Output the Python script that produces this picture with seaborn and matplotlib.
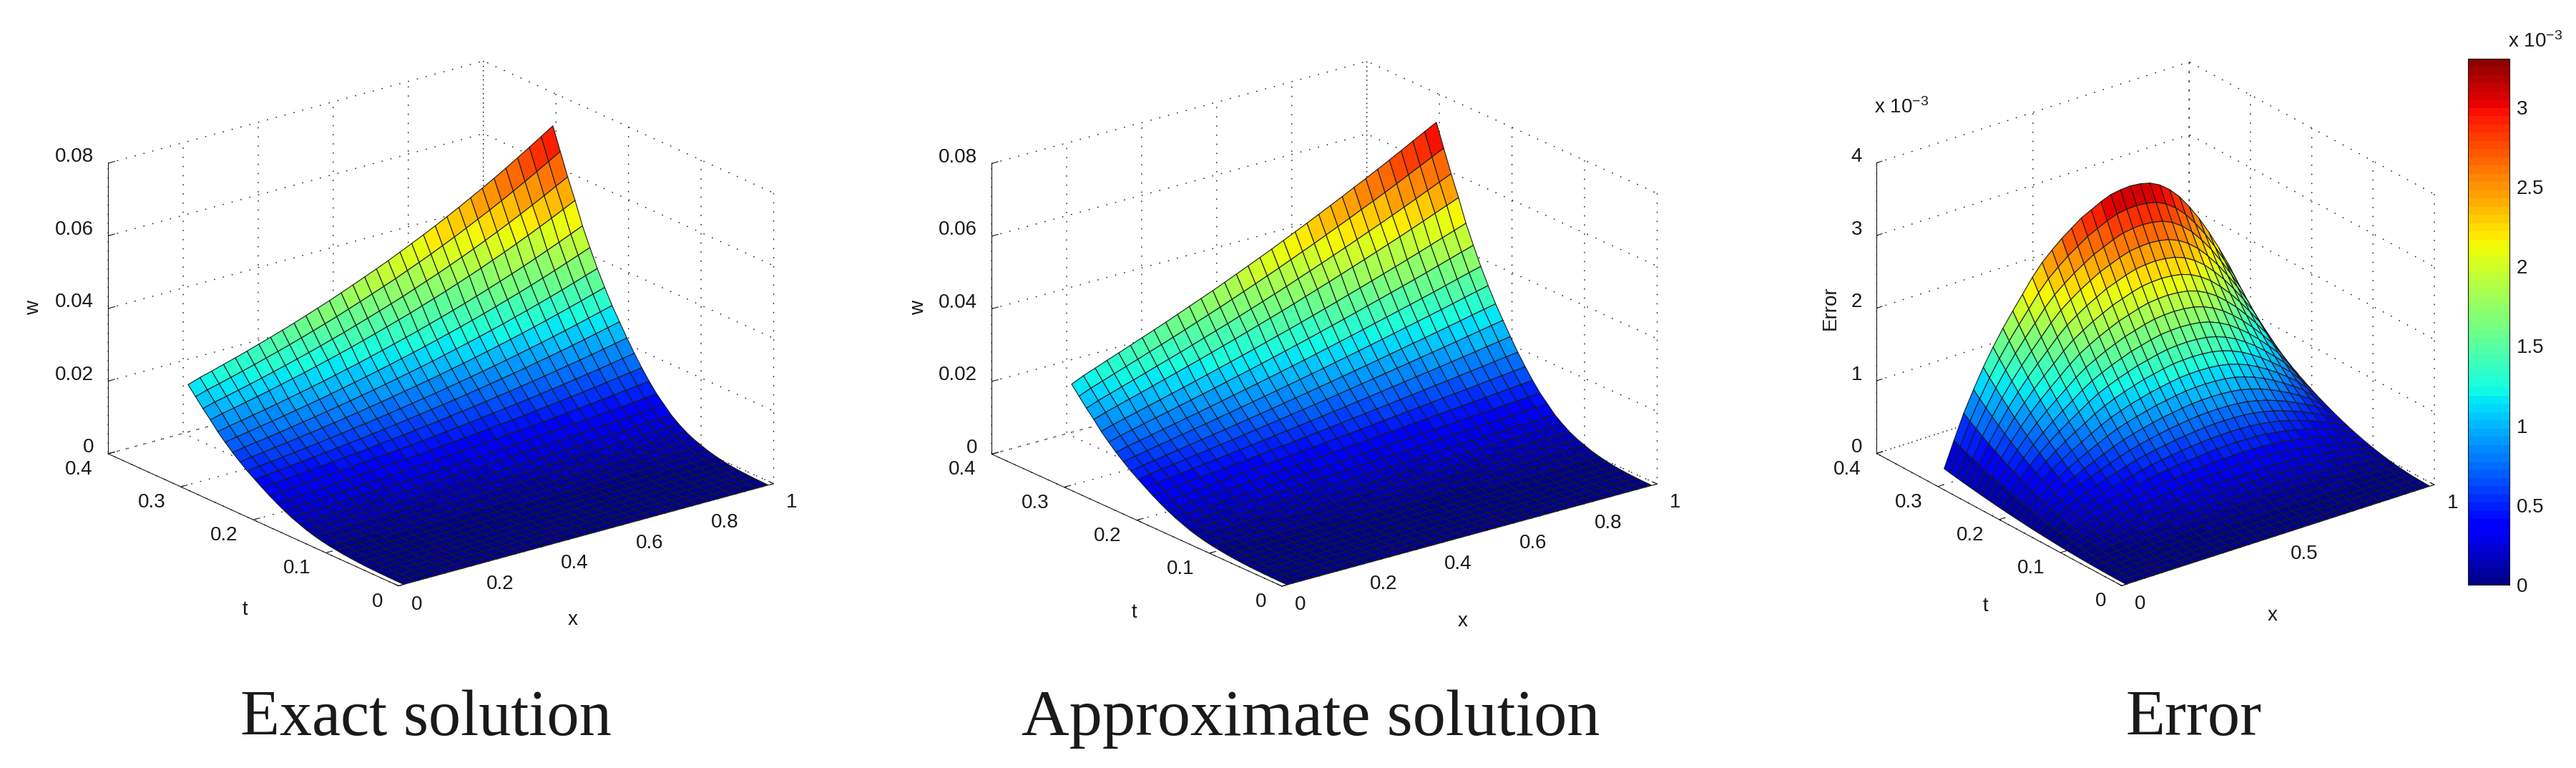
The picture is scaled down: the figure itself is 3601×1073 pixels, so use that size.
import numpy as np
import matplotlib
matplotlib.use("Agg")
import matplotlib.pyplot as plt
from matplotlib.colors import ListedColormap, Normalize
from matplotlib.cm import ScalarMappable
from mpl_toolkits.mplot3d import proj3d
import seaborn as sns

# ---- data ----
x_grid = np.linspace(0.014, 0.986, 32)
t_grid = np.linspace(0.001, 0.297, 30)
# exact solution along x = 0, for each t
exact_t = [0, .00001, .00004, .00008, .00014, .00022, .00035, .00051, .00071, .00099,
           .00128, .00167, .00217, .00276, .00355, .00433, .00532, .0064, .00758, .00887,
           .01024, .01162, .0132, .01487, .01675, .01872, .02108, .02325, .02561, .02800]
# growth of the exact solution along x
exact_x = [1, 1.039, 1.070, 1.104, 1.137, 1.172, 1.209, 1.245, 1.283, 1.322, 1.363, 1.405,
           1.447, 1.493, 1.539, 1.586, 1.634, 1.683, 1.736, 1.789, 1.843, 1.900, 1.958,
           2.018, 2.081, 2.144, 2.210, 2.278, 2.348, 2.420, 2.494, 2.568]
# error along the edge t = 0.29 (x 1e-3), for each x
error_x = [.239, .585, .917, 1.199, 1.463, 1.697, 1.911, 2.106, 2.291, 2.481, 2.642, 2.769,
           2.886, 2.984, 3.081, 3.149, 3.218, 3.272, 3.295, 3.305, 3.290, 3.257, 3.188,
           3.081, 2.940, 2.759, 2.555, 2.321, 2.067, 1.794, 1.443, 1.073]
# relative error against t
error_t = [0, .0012, .0048, .0107, .0190, .0297, .0428, .0583, .0761, .0963, .1189, .1439,
           .1712, .2010, .2331, .2675, .3044, .3436, .3853, .4293, .4756, .5244, .5755,
           .6290, .6849, .7432, .8038, .8668, .9322, 1.0]

x_ticks_fine = [0, .2, .4, .6, .8, 1]
x_labels_fine = ['0', '0.2', '0.4', '0.6', '0.8', '1']
x_ticks_coarse = [0, .5, 1]
x_labels_coarse = ['0', '0.5', '1']
t_ticks = [0, .1, .2, .3, .4]
t_labels = ['0', '0.1', '0.2', '0.3', '0.4']
w_ticks = [0, .02, .04, .06, .08]
w_labels = ['0', '0.02', '0.04', '0.06', '0.08']
err_ticks = [0, .001, .002, .003, .004]
err_labels = ['0', '1', '2', '3', '4']
cb_ticks = [0, .0005, .001, .0015, .002, .0025, .003]
cb_labels = ['0', '0.5', '1', '1.5', '2', '2.5', '3']
titles = ['Exact solution', 'Approximate solution', 'Error']
title_sizes = [65, 66.5, 65]

exact = np.outer(exact_t, exact_x)
error = np.outer(error_t, error_x) * 1e-3
approx = exact + error

# ---- style ----
FS = 20
sns.set_theme(style='white')
plt.rcParams.update({
    'font.family': ['Liberation Sans', 'DejaVu Sans'],
    'text.color': 'k', 'axes.labelcolor': 'k', 'xtick.color': 'k', 'ytick.color': 'k',
    'axes.edgecolor': 'k', 'axes.linewidth': 0.8,
    'xtick.major.width': 0.8, 'ytick.major.width': 0.8,
    'xtick.labelsize': FS, 'ytick.labelsize': FS,
    'grid.color': 'k', 'grid.linewidth': 1.0, 'grid.linestyle': (0, (1.2, 8)),
    'mathtext.default': 'regular',
})
jet64 = ListedColormap(sns.mpl_palette('jet', 64))

W, H = 3601, 1073
fig = plt.figure(figsize=(W / 100, H / 100), dpi=100, facecolor='white')


def px(ax, p):
    xp, yp, _ = proj3d.proj_transform(p[0], p[1], p[2], ax.get_proj())
    return ax.transData.transform((xp, yp))


def pin_labels(ax, axis, points, ha, offset):
    """Keep each tick label of a 3D axis at a fixed distance from its tick."""
    noop = lambda *a, **k: None
    for tick, p in zip(axis.get_major_ticks(), points):
        label = tick.label1
        label.set_horizontalalignment(ha)
        label.set_verticalalignment('center')
        label.set_fontsize(FS)
        anchor = ax.transData.inverted().transform(px(ax, p) + np.array(offset))
        label.set_position(anchor)
        for name in ('set_horizontalalignment', 'set_ha', 'set_verticalalignment', 'set_va',
                     'set_position', 'set_x', 'set_y'):
            setattr(label, name, noop)


def panel(Z, zmax, front, zlen, elev, aspect, xt, xl, zt, zl, zlabel, zlabel_xy, t_xy, x_xy, vmax):
    S0 = 1000.0
    ax = fig.add_axes([0, 0, S0 / W, S0 / H], projection='3d', proj_type='ortho')
    ax.set_facecolor('none')
    ax.set_xlim(0, 1, view_margin=0)
    ax.set_ylim(0, .4, view_margin=0)
    ax.set_zlim(0, zmax, view_margin=0)
    ax.view_init(elev=elev, azim=-127.73)
    ax.set_box_aspect(aspect)
    ax.apply_aspect()
    # scale and shift the square axes so the box sits at its place
    d = px(ax, (0, 0, zmax)) - px(ax, (0, 0, 0))
    S = S0 * zlen / np.hypot(*d)
    ax.set_position([0, 0, S / W, S / H])
    ax.apply_aspect()
    p0 = px(ax, (0, 0, 0))
    ax.set_position([(front[0] - p0[0]) / W, (H - front[1] - p0[1]) / H, S / W, S / H])
    ax.apply_aspect()

    X, T = np.meshgrid(x_grid, t_grid)
    colors = jet64(Normalize(0, vmax)(Z))
    ax.plot_surface(X, T, Z, facecolors=colors, rstride=1, cstride=1, shade=False,
                    edgecolor='k', linewidth=0.8)

    ax.set_xticks(xt, labels=xl)
    ax.set_yticks(t_ticks, labels=t_labels)
    ax.set_zticks(zt, labels=zl)
    for axis in (ax.xaxis, ax.yaxis, ax.zaxis):
        axis.pane.set_fill(False)
        axis.pane.set_edgecolor('none')
        axis._axinfo['tick']['inward_factor'] = 0
        axis._axinfo['tick']['outward_factor'] = 0.22
    ax.grid(True)
    pin_labels(ax, ax.xaxis, [(v, 0, 0) for v in xt], 'left', (17.5, -26))
    pin_labels(ax, ax.yaxis, [(0, v, 0) for v in t_ticks], 'right', (-21.5, -22))
    pin_labels(ax, ax.zaxis, [(0, .4, v) for v in zt], 'right', (-20, 8.5))

    kw = dict(fontsize=FS, ha='center', va='center', transform=fig.transFigure)
    fig.text(t_xy[0] / W, 1 - t_xy[1] / H, 't', **kw)
    fig.text(x_xy[0] / W, 1 - x_xy[1] / H, 'x', **kw)
    fig.text(zlabel_xy[0] / W, 1 - zlabel_xy[1] / H, zlabel, rotation=90, **kw)
    return ax


panel(exact, .08, (557, 818.5), 406, 20.6, (1, 1, .654), x_ticks_fine, x_labels_fine,
      w_ticks, w_labels, 'w', (47, 430), (342, 852), (801, 866), exact.max())
panel(approx, .08, (1792, 819), 406, 20.6, (1, 1, .654), x_ticks_fine, x_labels_fine,
      w_ticks, w_labels, 'w', (1284, 430), (1585, 856), (2045, 868), approx.max())
panel(error, .004, (2966, 818.3), 406, 24.66, (552.5, 560, 446.8), x_ticks_coarse, x_labels_coarse,
      err_ticks, err_labels, 'Error', (2559, 430), (2775, 847), (3177, 860), error.max())

fig.text(2658 / W, 1 - 150 / H, r'x 10$^{-3}$', fontsize=FS, ha='center', va='center')

# colourbar
vmax_cb = 3.305e-3
cax = fig.add_axes([3450 / W, 1 - 817 / H, 58 / W, 735 / H])
cb = fig.colorbar(ScalarMappable(Normalize(0, vmax_cb), jet64), cax=cax)
cb.set_ticks(cb_ticks, labels=cb_labels)
cb.ax.tick_params(direction='in', length=6.5, width=0.8, left=True, right=True,
                  labelsize=FS, pad=7)
cb.outline.set_linewidth(0.8)
fig.text(3544 / W, 1 - 58 / H, r'x 10$^{-3}$', fontsize=FS, ha='center', va='center')

# captions
for name, cx, size in zip(titles, (595, 1832, 3067), title_sizes):
    fig.text(cx / W, 1 - 1027 / H, name, fontsize=size, ha='center', va='baseline',
             family=['Liberation Serif', 'DejaVu Serif'])

fig.savefig('out.png', dpi=100, facecolor='white')
